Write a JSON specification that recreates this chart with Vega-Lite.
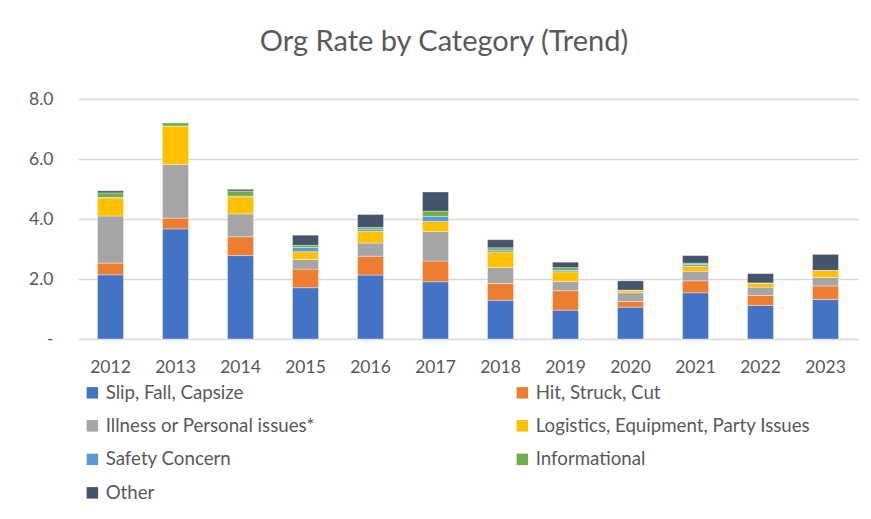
{
  "$schema": "https://vega.github.io/schema/vega-lite/v6.json",
  "width": 780,
  "height": 240,
  "autosize": "none",
  "padding": {"left": 78, "top": 99, "right": 13, "bottom": 180},
  "background": "white",
  "title": {"text": "Org Rate by Category (Trend)", "fontSize": 29, "font": "Lato", "fontWeight": "normal", "color": "#595959", "anchor": "middle", "dx": -24, "offset": 33},
  "data": {"values": [
    {"year": "2012", "cat": "Slip, Fall, Capsize", "v": 2.14},
    {"year": "2012", "cat": "Hit, Struck, Cut", "v": 0.39},
    {"year": "2012", "cat": "Illness or Personal issues*", "v": 1.57},
    {"year": "2012", "cat": "Logistics, Equipment, Party Issues", "v": 0.6},
    {"year": "2012", "cat": "Safety Concern", "v": 0.02},
    {"year": "2012", "cat": "Informational", "v": 0.15},
    {"year": "2012", "cat": "Other", "v": 0.07},
    {"year": "2013", "cat": "Slip, Fall, Capsize", "v": 3.67},
    {"year": "2013", "cat": "Hit, Struck, Cut", "v": 0.36},
    {"year": "2013", "cat": "Illness or Personal issues*", "v": 1.79},
    {"year": "2013", "cat": "Logistics, Equipment, Party Issues", "v": 1.28},
    {"year": "2013", "cat": "Safety Concern", "v": 0.0},
    {"year": "2013", "cat": "Informational", "v": 0.11},
    {"year": "2013", "cat": "Other", "v": 0.0},
    {"year": "2014", "cat": "Slip, Fall, Capsize", "v": 2.78},
    {"year": "2014", "cat": "Hit, Struck, Cut", "v": 0.63},
    {"year": "2014", "cat": "Illness or Personal issues*", "v": 0.76},
    {"year": "2014", "cat": "Logistics, Equipment, Party Issues", "v": 0.57},
    {"year": "2014", "cat": "Safety Concern", "v": 0.02},
    {"year": "2014", "cat": "Informational", "v": 0.17},
    {"year": "2014", "cat": "Other", "v": 0.06},
    {"year": "2015", "cat": "Slip, Fall, Capsize", "v": 1.71},
    {"year": "2015", "cat": "Hit, Struck, Cut", "v": 0.62},
    {"year": "2015", "cat": "Illness or Personal issues*", "v": 0.32},
    {"year": "2015", "cat": "Logistics, Equipment, Party Issues", "v": 0.26},
    {"year": "2015", "cat": "Safety Concern", "v": 0.14},
    {"year": "2015", "cat": "Informational", "v": 0.07},
    {"year": "2015", "cat": "Other", "v": 0.34},
    {"year": "2016", "cat": "Slip, Fall, Capsize", "v": 2.13},
    {"year": "2016", "cat": "Hit, Struck, Cut", "v": 0.63},
    {"year": "2016", "cat": "Illness or Personal issues*", "v": 0.44},
    {"year": "2016", "cat": "Logistics, Equipment, Party Issues", "v": 0.39},
    {"year": "2016", "cat": "Safety Concern", "v": 0.07},
    {"year": "2016", "cat": "Informational", "v": 0.06},
    {"year": "2016", "cat": "Other", "v": 0.43},
    {"year": "2017", "cat": "Slip, Fall, Capsize", "v": 1.91},
    {"year": "2017", "cat": "Hit, Struck, Cut", "v": 0.69},
    {"year": "2017", "cat": "Illness or Personal issues*", "v": 0.98},
    {"year": "2017", "cat": "Logistics, Equipment, Party Issues", "v": 0.34},
    {"year": "2017", "cat": "Safety Concern", "v": 0.17},
    {"year": "2017", "cat": "Informational", "v": 0.17},
    {"year": "2017", "cat": "Other", "v": 0.64},
    {"year": "2018", "cat": "Slip, Fall, Capsize", "v": 1.29},
    {"year": "2018", "cat": "Hit, Struck, Cut", "v": 0.56},
    {"year": "2018", "cat": "Illness or Personal issues*", "v": 0.53},
    {"year": "2018", "cat": "Logistics, Equipment, Party Issues", "v": 0.52},
    {"year": "2018", "cat": "Safety Concern", "v": 0.06},
    {"year": "2018", "cat": "Informational", "v": 0.08},
    {"year": "2018", "cat": "Other", "v": 0.27},
    {"year": "2019", "cat": "Slip, Fall, Capsize", "v": 0.96},
    {"year": "2019", "cat": "Hit, Struck, Cut", "v": 0.65},
    {"year": "2019", "cat": "Illness or Personal issues*", "v": 0.31},
    {"year": "2019", "cat": "Logistics, Equipment, Party Issues", "v": 0.32},
    {"year": "2019", "cat": "Safety Concern", "v": 0.05},
    {"year": "2019", "cat": "Informational", "v": 0.09},
    {"year": "2019", "cat": "Other", "v": 0.18},
    {"year": "2020", "cat": "Slip, Fall, Capsize", "v": 1.06},
    {"year": "2020", "cat": "Hit, Struck, Cut", "v": 0.19},
    {"year": "2020", "cat": "Illness or Personal issues*", "v": 0.29},
    {"year": "2020", "cat": "Logistics, Equipment, Party Issues", "v": 0.07},
    {"year": "2020", "cat": "Safety Concern", "v": 0.01},
    {"year": "2020", "cat": "Informational", "v": 0.01},
    {"year": "2020", "cat": "Other", "v": 0.31},
    {"year": "2021", "cat": "Slip, Fall, Capsize", "v": 1.54},
    {"year": "2021", "cat": "Hit, Struck, Cut", "v": 0.4},
    {"year": "2021", "cat": "Illness or Personal issues*", "v": 0.32},
    {"year": "2021", "cat": "Logistics, Equipment, Party Issues", "v": 0.17},
    {"year": "2021", "cat": "Safety Concern", "v": 0.06},
    {"year": "2021", "cat": "Informational", "v": 0.04},
    {"year": "2021", "cat": "Other", "v": 0.25},
    {"year": "2022", "cat": "Slip, Fall, Capsize", "v": 1.12},
    {"year": "2022", "cat": "Hit, Struck, Cut", "v": 0.33},
    {"year": "2022", "cat": "Illness or Personal issues*", "v": 0.28},
    {"year": "2022", "cat": "Logistics, Equipment, Party Issues", "v": 0.14},
    {"year": "2022", "cat": "Safety Concern", "v": 0.0},
    {"year": "2022", "cat": "Informational", "v": 0.0},
    {"year": "2022", "cat": "Other", "v": 0.31},
    {"year": "2023", "cat": "Slip, Fall, Capsize", "v": 1.32},
    {"year": "2023", "cat": "Hit, Struck, Cut", "v": 0.45},
    {"year": "2023", "cat": "Illness or Personal issues*", "v": 0.28},
    {"year": "2023", "cat": "Logistics, Equipment, Party Issues", "v": 0.24},
    {"year": "2023", "cat": "Safety Concern", "v": 0.0},
    {"year": "2023", "cat": "Informational", "v": 0.0},
    {"year": "2023", "cat": "Other", "v": 0.53}
  ]},
  "transform": [
    {"calculate": "indexof(['Slip, Fall, Capsize', 'Hit, Struck, Cut', 'Illness or Personal issues*', 'Logistics, Equipment, Party Issues', 'Safety Concern', 'Informational', 'Other'], datum.cat)", "as": "stackOrder"}
  ],
  "mark": {"type": "bar", "stroke": "white", "strokeWidth": 0.6, "strokeOpacity": 0.6},
  "encoding": {
    "x": {"field": "year", "type": "ordinal", "title": null,
      "scale": {"paddingInner": 0.6, "paddingOuter": 0.3},
      "axis": {"labelAngle": 0, "domain": false, "ticks": false, "labelPadding": 19, "labelFontSize": 17.5, "labelFont": "Lato", "labelColor": "#595959"}},
    "y": {"field": "v", "type": "quantitative", "stack": "zero", "title": null,
      "scale": {"domain": [0, 8], "nice": false},
      "axis": {"values": [0, 2, 4, 6, 8], "domain": false, "ticks": false, "labelPadding": 25, "labelFontSize": 17.5, "labelFont": "Lato", "labelColor": "#595959", "gridColor": "#D9D9D9", "gridWidth": 1.3,
        "labelExpr": "datum.value == 0 ? '-' : format(datum.value, '.1f')"}},
    "order": {"field": "stackOrder", "type": "quantitative", "sort": "ascending"},
    "color": {"field": "cat", "type": "nominal", "title": null,
      "scale": {"domain": ["Slip, Fall, Capsize", "Illness or Personal issues*", "Safety Concern", "Other", "Hit, Struck, Cut", "Logistics, Equipment, Party Issues", "Informational"],
        "range": ["#4472C4", "#A5A5A5", "#5B9BD5", "#44546A", "#ED7D31", "#FFC000", "#70AD47"]},
      "legend": {"orient": "none", "legendX": 5, "legendY": 284, "columns": 2, "columnPadding": 198, "rowPadding": 13.5, "symbolType": "square", "symbolSize": 132, "symbolStrokeWidth": 0, "labelFontSize": 18.7, "labelFont": "Lato", "labelColor": "#595959", "labelLimit": 400, "labelOffset": 4}}
  },
  "config": {"view": {"stroke": null}}
}
